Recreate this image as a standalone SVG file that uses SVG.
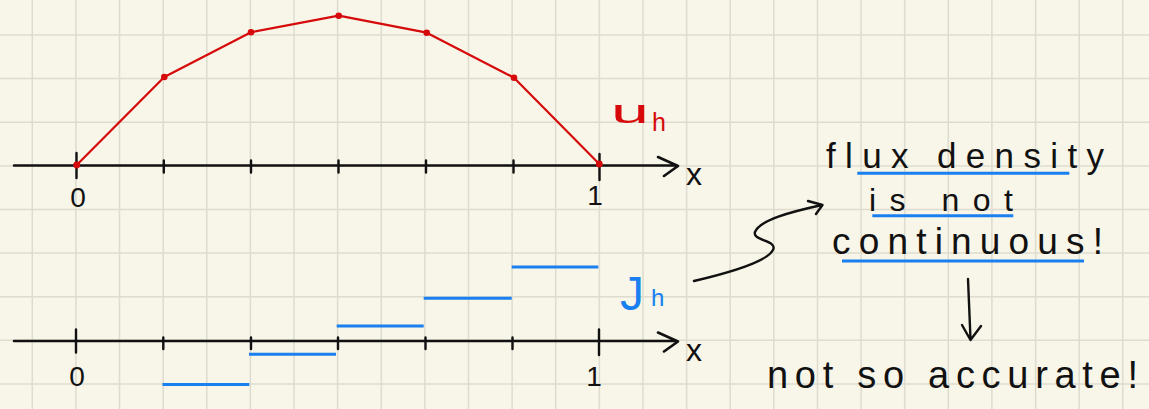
<svg xmlns="http://www.w3.org/2000/svg" width="1149" height="409" viewBox="0 0 1149 409">
<style>
.grid{stroke:#dedbcf;stroke-width:1.5;fill:none}
.axis{stroke:#111;stroke-width:2.6;fill:none;stroke-linecap:round;stroke-linejoin:round}
.tick{stroke:#111;stroke-width:2.4;stroke-linecap:round}
.red{stroke:#d60a0a;stroke-width:2.2;fill:none;stroke-linejoin:round}
.dot{fill:#d60a0a}
.blue{stroke:#1a80f0;stroke-width:3;fill:none}
.ink{fill:#111;font-family:"Liberation Sans",Arial,sans-serif}
.redt{fill:#d60a0a;font-family:"Liberation Sans",Arial,sans-serif}
.bluet{fill:#1a80f0;font-family:"Liberation Sans",Arial,sans-serif}
.conn{stroke:#111;stroke-width:2.4;fill:none;stroke-linecap:round;stroke-linejoin:round}
</style>
<rect width="1149" height="409" fill="#f8f5e9"/>
<g id="grid" class="grid">
<path d="M32.3 0V409M75.9 0V409M119.5 0V409M163.2 0V409M206.8 0V409M250.4 0V409M294 0V409M337.6 0V409M381.3 0V409M424.9 0V409M468.5 0V409M512.1 0V409M555.7 0V409M599.4 0V409M643 0V409M686.6 0V409M730.2 0V409M773.8 0V409M817.5 0V409M861.1 0V409M904.7 0V409M948.3 0V409M991.9 0V409M1035.6 0V409M1079.2 0V409M1122.8 0V409"/>
<path d="M0 35H1149M0 78.6H1149M0 122.2H1149M0 165.9H1149M0 209.5H1149M0 253.1H1149M0 296.7H1149M0 340.3H1149M0 384H1149"/>
</g>
<g id="axis-top">
<path class="axis" d="M14 165.5H677M658 157L678 166L664 176"/>
<path class="tick" d="M76.5 153V178M163.8 160.5V172.5M251 160.5V172.5M338.5 160.5V172.5M426 160.5V172.5M513.5 160.5V172.5M599.5 154V180"/>
<text class="ink" x="78" y="207" font-size="28" text-anchor="middle">0</text>
<text class="ink" x="595" y="205" font-size="28" text-anchor="middle">1</text>
<text class="ink" x="686" y="185" font-size="32">x</text>
</g>
<g id="axis-bottom">
<path class="axis" d="M14 341H677M658 332.5L678 341.5L664 351.5"/>
<path class="tick" d="M76 329.5V352.5M163.3 337.5V349M251 337.5V349M338 337.5V349M425.5 337.5V349M512.5 337.5V349M599 329.5V355"/>
<text class="ink" x="77" y="386" font-size="28" text-anchor="middle">0</text>
<text class="ink" x="594" y="386" font-size="28" text-anchor="middle">1</text>
<text class="ink" x="686" y="361" font-size="32">x</text>
</g>
<g id="u-h">
<polyline class="red" points="76.7,165 164.3,77 251,32.3 338.7,15.7 426.7,32.7 514,77.7 599.3,164"/>
<g class="dot">
<circle cx="76.7" cy="165" r="3.4"/><circle cx="164.3" cy="77" r="3.3"/><circle cx="251" cy="32.3" r="3.3"/><circle cx="338.7" cy="15.7" r="3.3"/><circle cx="426.7" cy="32.7" r="3.3"/><circle cx="514" cy="77.7" r="3.3"/><circle cx="599.3" cy="164" r="3.4"/>
</g>
<text class="redt" x="611" y="123" font-size="34" textLength="38" lengthAdjust="spacingAndGlyphs">u</text>
<text class="redt" x="652" y="131" font-size="25">h</text>
</g>
<g id="J-h">
<path class="blue" d="M162.5 384.5H249.3M249 354.3H336M336.7 326H423.7M423.7 298.3H511.7M511.7 267H598.3"/>
<text class="bluet" x="620" y="310" font-size="48">J</text>
<text class="bluet" x="651" y="306" font-size="24">h</text>
</g>
<g id="note-flux">
<text class="ink" x="826" y="168" font-size="35" textLength="278" lengthAdjust="spacing">flux density</text>
<text class="ink" x="869" y="211" font-size="32" textLength="144" lengthAdjust="spacing">is not</text>
<text class="ink" x="832" y="254" font-size="37" textLength="271" lengthAdjust="spacing">continuous!</text>
<path class="blue" d="M857.3 173.3H1069.3M872.3 215.7H1013.3M842 261H1084"/>
</g>
<g id="note-accuracy">
<text class="ink" x="767" y="388" font-size="38" textLength="371" lengthAdjust="spacing">not so accurate!</text>
</g>
<g id="connectors">
<path class="conn" d="M694 281C728 273 767 262 773 250C778 240 752 241 755 232C760 220 790 212 822 205M808 201L822.5 205L816 214"/>
<path class="conn" d="M968 279L970.5 339M962 325L970.5 340L981 326"/>
</g>
</svg>
